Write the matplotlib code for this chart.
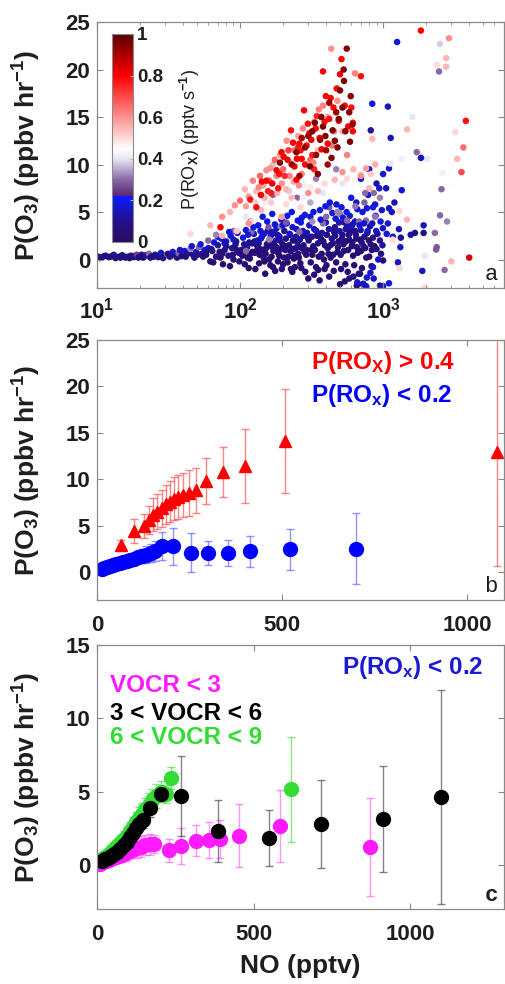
import numpy as np
import matplotlib
matplotlib.use('Agg')
import matplotlib.pyplot as plt
from matplotlib.colors import LinearSegmentedColormap

# ---------------- data: panel a (NO, P(O3), P(ROx)) ----------------
low_band = [
    (10.2, 0.30, 0.06), (10.5, 0.15, 0.08), (10.8, 0.20, 0.05), (11.2, 0.35, 0.10), (11.5, 0.40, 0.07),
    (12.1, 0.25, 0.06), (12.4, 0.30, 0.09), (12.8, 0.35, 0.05), (13.1, 0.50, 0.12), (13.5, 0.15, 0.07),
    (14.2, 0.30, 0.08), (14.6, 0.20, 0.06), (15.0, 0.45, 0.05), (15.4, 0.35, 0.10), (15.8, 0.20, 0.07),
    (16.5, 0.30, 0.09), (16.9, 0.15, 0.06), (17.3, 0.40, 0.05), (18.1, 0.25, 0.08), (18.5, 0.40, 0.11),
    (19.0, 0.50, 0.25), (19.5, 0.20, 0.07), (20.0, 0.30, 0.06), (20.5, 0.50, 0.09), (21.0, 0.20, 0.05),
    (21.5, 0.35, 0.08), (22.0, 0.45, 0.11), (23.1, 0.60, 0.30), (23.6, 0.20, 0.06), (24.3, 0.35, 0.08),
    (25.0, 0.30, 0.05), (25.5, 0.50, 0.07), (26.8, 0.25, 0.10), (27.4, 0.45, 0.06), (28.0, 0.70, 0.18),
    (29.0, 0.15, 0.08), (29.4, 0.40, 0.07), (30.8, 0.55, 0.28), (31.5, 0.60, 0.06), (32.3, 0.30, 0.05),
    (33.0, 0.40, 0.09), (33.9, 0.80, 0.19), (35.5, 0.50, 0.09), (36.3, 0.20, 0.07), (37.2, 0.65, 0.30),
    (38.0, 1.00, 0.16), (39.0, 0.35, 0.06), (40.9, 0.90, 0.18), (41.8, 0.30, 0.05), (42.8, 0.60, 0.08),
    (44.0, 0.70, 0.10), (44.9, 1.10, 0.32), (46.0, 1.40, 0.17), (47.1, 0.45, 0.07), (48.0, 0.20, 0.06),
    (49.3, 0.80, 0.17), (50.5, 0.50, 0.09), (51.6, 1.30, 0.30), (53.0, 1.60, 0.18), (54.0, 0.60, 0.10),
    (55.2, 0.30, 0.06), (56.5, 1.00, 0.19), (58.0, 0.80, 0.08),
]
mid_low = [
    (58, 0.5, 0.07), (60, 1.2, 0.16), (62, -0.2, 0.05), (64, 0.9, 0.09), (66, 1.8, 0.18), (68, 0.3, 0.06),
    (70, 1.5, 0.12), (72, 0.8, 0.05), (74, 2.2, 0.19), (76, -0.5, 0.04), (78, 1.0, 0.08), (80, 1.9, 0.15),
    (83, 0.4, 0.06), (86, 2.5, 0.19), (88, 1.2, 0.10), (90, 0.0, 0.05), (93, 1.6, 0.08), (96, 2.8, 0.17),
    (98, 0.7, 0.06), (60, 2.0, 0.30), (65, -0.3, 0.05), (70, 2.4, 0.18), (75, 0.6, 0.07), (80, 1.4, 0.11),
    (85, -0.7, 0.04), (90, 2.1, 0.16), (95, 1.0, 0.06), (63, 1.1, 0.09), (68, 2.6, 0.32), (73, 0.2, 0.05),
    (78, 1.7, 0.14), (84, 2.9, 0.18), (89, 0.5, 0.07), (94, 1.9, 0.12), (99, -0.2, 0.05),
]
bulk_mid = [
    (102, 1.0, 0.06), (105, 2.3, 0.17), (108, -0.5, 0.05), (110, 3.1, 0.19), (113, 0.2, 0.08), (116, 1.8, 0.12),
    (119, 4.0, 0.18), (122, 0.8, 0.05), (125, 2.7, 0.15), (128, -1.0, 0.04), (131, 1.5, 0.10), (134, 3.6, 0.19),
    (137, 0.5, 0.06), (140, 2.2, 0.14), (144, 4.5, 0.18), (148, -0.2, 0.05), (152, 1.2, 0.09), (156, 3.0, 0.16),
    (160, 0.0, 0.04), (164, 2.5, 0.13), (168, 4.8, 0.19), (172, 1.7, 0.07), (176, -1.2, 0.05), (180, 3.3, 0.17),
    (185, 0.7, 0.06), (190, 2.0, 0.11), (195, 4.2, 0.18), (200, -0.5, 0.04), (206, 1.4, 0.08), (212, 3.8, 0.16),
    (218, 0.3, 0.05), (224, 2.6, 0.12), (230, 5.0, 0.19), (236, 1.1, 0.07), (242, -0.8, 0.04), (248, 3.2, 0.15),
    (255, 0.6, 0.06), (262, 2.1, 0.10), (270, 4.4, 0.18), (278, 1.5, 0.08), (286, -1.3, 0.04), (294, 2.8, 0.14),
    (104, 0.4, 0.05), (112, 1.3, 0.09), (120, 2.9, 0.30), (130, 0.9, 0.06), (142, 2.4, 0.17), (154, 1.6, 0.08),
    (166, 0.3, 0.05), (178, 2.0, 0.12), (192, 3.5, 0.32), (208, 1.0, 0.06), (222, 2.7, 0.16), (238, 0.1, 0.05),
    (252, 1.8, 0.09), (266, 3.9, 0.19), (282, 0.8, 0.07), (298, 2.3, 0.13), (115, -0.9, 0.04), (135, 1.7, 0.10),
    (158, 3.4, 0.28), (183, 2.6, 0.18), (215, -0.3, 0.05), (245, 1.2, 0.08), (275, 3.0, 0.15),
    (107, 1.6, 0.07), (118, 0.6, 0.05), (126, 1.9, 0.08), (138, 1.1, 0.06), (146, 0.2, 0.05), (162, 1.4, 0.07),
    (174, 2.8, 0.10), (188, 0.4, 0.05), (198, 1.6, 0.06), (204, 3.0, 0.09), (226, 0.9, 0.05), (234, 2.0, 0.06),
    (258, 0.2, 0.05), (272, 1.2, 0.06), (290, 0.5, 0.05), (150, -1.5, 0.04), (170, -0.8, 0.04), (196, -1.0, 0.05),
    (232, -1.3, 0.04), (264, -0.4, 0.05),
]
bulk_high = [
    (302, 2.0, 0.06), (310, 4.5, 0.18), (320, 0.5, 0.05), (330, 3.2, 0.15), (340, -0.8, 0.04), (350, 1.7, 0.09),
    (362, 5.2, 0.19), (374, 2.8, 0.12), (386, 0.0, 0.05), (398, 3.9, 0.17), (410, 1.2, 0.07), (424, 6.0, 0.19),
    (438, 2.2, 0.10), (452, -1.2, 0.04), (466, 4.3, 0.16), (480, 0.8, 0.06), (496, 3.0, 0.13), (512, 5.5, 0.18),
    (528, 1.6, 0.08), (545, -0.5, 0.05), (562, 3.6, 0.15), (580, 2.1, 0.07), (598, 6.5, 0.19), (617, 0.4, 0.05),
    (636, 4.0, 0.17), (656, 1.3, 0.09), (676, -1.5, 0.04), (697, 3.1, 0.14), (718, 5.0, 0.18), (740, 2.4, 0.06),
    (763, 0.2, 0.05), (786, 6.8, 0.17), (810, 3.5, 0.12), (835, 1.0, 0.05), (860, -2.0, 0.15), (886, 4.6, 0.19),
    (913, 2.7, 0.08), (940, 7.5, 0.18), (968, 0.6, 0.06), (997, 3.3, 0.16),
    (315, 1.0, 0.05), (345, 2.5, 0.08), (380, 3.8, 0.30), (415, 0.6, 0.05), (455, 2.9, 0.11), (500, 4.8, 0.32),
    (550, 1.9, 0.06), (600, 3.4, 0.17), (650, 2.2, 0.05), (700, 0.9, 0.07), (760, 4.1, 0.30), (820, 1.6, 0.06),
    (880, 5.8, 0.18), (950, 2.0, 0.09),
    (330, -1.6, 0.04), (390, -1.0, 0.05), (470, -0.3, 0.06), (540, -2.3, 0.05), (620, -1.8, 0.06),
    (720, -2.6, 0.15), (830, -0.7, 0.05),
    (325, 1.4, 0.06), (355, 0.3, 0.05), (368, 2.2, 0.07), (392, 1.5, 0.06), (405, 2.6, 0.08), (430, 0.2, 0.05),
    (445, 1.7, 0.07), (460, 3.4, 0.10), (488, 1.9, 0.05), (505, 0.5, 0.06), (520, 2.6, 0.07), (535, 3.9, 0.09),
    (570, 1.0, 0.05), (590, 2.9, 0.06), (610, 1.8, 0.05), (640, 3.0, 0.08), (665, 0.7, 0.06), (690, 2.1, 0.05),
    (730, 1.4, 0.06), (775, 2.8, 0.08), (800, 0.3, 0.05), (850, 2.3, 0.06), (900, 1.1, 0.07),
    (655, -2.75, 0.05), (727, -2.55, 0.16), (950, -2.75, 0.05), (770, -1.9, 0.17), (690, -1.5, 0.06),
    (850, -0.8, 0.15), (1000, -0.1, 0.05), (1320, 1.3, 0.17), (1170, 2.4, 0.16), (1060, 2.7, 0.18),
    (650, 6.0, 0.16), (700, 8.5, 0.18), (750, 7.0, 0.30), (800, 9.5, 0.15), (850, 5.5, 0.19), (900, 8.0, 0.12),
    (950, 6.5, 0.32), (1000, 9.0, 0.17), (1050, 7.5, 0.15), (1100, 9.6, 0.18), (1150, 5.0, 0.16),
    (1200, 6.0, 0.14), (680, 4.0, 0.30), (780, 3.0, 0.17), (880, 4.5, 0.31), (980, 5.2, 0.16), (1080, 3.8, 0.18),
]
bulk_fill = [
    (105, 0.5, 0.05), (109, 1.4, 0.10), (114, 2.6, 0.17), (117, 0.1, 0.04), (121, 1.7, 0.08), (124, 3.4, 0.19),
    (127, 0.7, 0.05), (132, 2.0, 0.14), (136, -0.4, 0.04), (139, 3.0, 0.18), (143, 1.0, 0.06), (147, 2.7, 0.16),
    (151, 0.6, 0.05), (155, 4.0, 0.19), (159, 1.9, 0.09), (163, -0.6, 0.04), (167, 2.9, 0.15), (171, 0.9, 0.06),
    (175, 3.7, 0.18), (179, 1.3, 0.07), (184, -0.2, 0.05), (189, 2.4, 0.13), (193, 1.1, 0.06), (199, 3.6, 0.17),
    (203, 0.2, 0.05), (209, 2.2, 0.10), (214, 4.6, 0.19), (220, 1.5, 0.07), (227, -1.0, 0.04), (233, 3.4, 0.16),
    (240, 0.4, 0.05), (246, 2.4, 0.12), (253, 4.1, 0.18), (260, 1.3, 0.06), (268, -0.9, 0.04), (276, 2.5, 0.11),
    (284, 4.7, 0.19), (292, 1.0, 0.06),
    (305, 3.6, 0.17), (312, -0.3, 0.05), (318, 2.4, 0.09), (326, 5.0, 0.19), (334, 1.0, 0.06), (342, 3.0, 0.14),
    (352, -1.1, 0.04), (358, 2.5, 0.08), (366, 4.2, 0.18), (372, 0.6, 0.05), (382, 1.9, 0.07), (395, 5.6, 0.19),
    (402, -0.6, 0.05), (418, 3.2, 0.13), (428, 1.5, 0.06), (442, 4.9, 0.18), (448, 0.5, 0.05), (462, 2.5, 0.09),
    (472, 5.8, 0.17), (484, 1.3, 0.06), (492, 3.9, 0.15), (508, -1.0, 0.05), (516, 2.2, 0.08), (524, 4.4, 0.18),
    (532, 0.9, 0.06), (548, 3.2, 0.12), (556, 5.0, 0.19), (566, -1.3, 0.05), (575, 2.6, 0.07), (585, 4.6, 0.17),
    (604, 1.4, 0.06), (612, 3.7, 0.14), (628, -0.6, 0.05), (645, 2.6, 0.09), (660, 5.3, 0.18), (672, 0.9, 0.05),
    (685, 3.6, 0.16), (708, 1.8, 0.06), (712, -0.9, 0.05), (735, 3.8, 0.17), (750, 1.2, 0.06), (770, 5.4, 0.18),
    (795, 2.0, 0.07), (815, -1.4, 0.16), (840, 3.8, 0.14), (870, 1.4, 0.06), (895, 3.0, 0.17), (925, 0.0, 0.15),
    (960, 4.0, 0.18), (990, 1.5, 0.12),
    (110, 0.9, 0.30), (160, 2.1, 0.32), (210, 3.9, 0.28), (260, 2.9, 0.30), (320, 4.0, 0.33), (400, 4.5, 0.30),
    (480, 5.0, 0.32), (560, 4.1, 0.30), (640, 5.6, 0.31), (740, 6.0, 0.29), (860, 7.0, 0.30),
    (300, -2.0, 0.05), (360, -2.2, 0.05), (420, -1.8, 0.06), (500, -2.6, 0.05), (580, -2.0, 0.06),
    (660, -2.4, 0.17), (760, -2.8, 0.16), (1000, -2.8, 0.17), (1100, -2.5, 0.18),
]
pale = [
    (90, 3.0, 0.30), (110, 4.5, 0.40), (130, 5.5, 0.35), (150, 6.0, 0.42), (170, 6.8, 0.30), (195, 5.0, 0.45),
    (220, 7.2, 0.38), (250, 6.5, 0.30), (280, 7.8, 0.42), (310, 6.0, 0.35), (340, 8.5, 0.32), (380, 7.0, 0.40),
    (420, 5.5, 0.28), (470, 9.5, 0.32), (520, 8.0, 0.40), (600, 6.5, 0.45), (700, 9.0, 0.50), (800, 7.5, 0.55),
    (900, 9.8, 0.45),
]
pink = [
    (45, 2.7, 0.50), (62, 3.6, 0.55), (75, 4.5, 0.60), (85, 5.0, 0.55), (92, 5.7, 0.60), (100, 6.2, 0.65),
    (108, 7.4, 0.55), (115, 6.6, 0.60), (123, 8.3, 0.62), (130, 7.2, 0.55), (138, 8.8, 0.66), (145, 7.8, 0.58),
    (153, 9.4, 0.60), (160, 8.3, 0.68), (170, 10.0, 0.55), (180, 8.8, 0.62), (190, 11.0, 0.58), (200, 9.5, 0.66),
    (212, 12.5, 0.60), (225, 10.2, 0.55), (240, 11.5, 0.64), (255, 13.0, 0.58), (270, 9.0, 0.62), (290, 12.0, 0.56),
    (310, 10.5, 0.66), (330, 14.5, 0.60), (350, 11.5, 0.55), (380, 16.2, 0.62), (410, 15.0, 0.58), (440, 12.0, 0.64),
    (480, 16.7, 0.60), (520, 13.5, 0.56), (560, 11.0, 0.62), (620, 9.5, 0.55), (700, 8.8, 0.60), (760, 9.6, 0.58),
    (820, 9.0, 0.52), (880, 10.0, 0.56), (120, 4.0, 0.50), (140, 5.2, 0.55), (165, 6.0, 0.52), (195, 4.5, 0.58),
    (230, 6.5, 0.55), (265, 5.5, 0.50), (300, 7.0, 0.60), (75, 2.5, 0.55), (95, 3.0, 0.52), (115, 3.8, 0.60),
    (434, 22.2, 0.60), (636, 19.6, 0.62),
]
red = [
    (73, 3.4, 0.82), (130, 5.5, 0.78), (153, 8.3, 0.80), (165, 7.0, 0.76), (180, 9.4, 0.82), (195, 11.3, 0.80),
    (205, 8.8, 0.74), (215, 10.5, 0.80), (227, 13.6, 0.78), (240, 9.8, 0.82), (255, 11.8, 0.76), (270, 10.6, 0.80),
    (280, 15.7, 0.82), (292, 12.0, 0.78), (305, 13.3, 0.80), (320, 11.0, 0.76), (344, 15.1, 0.75), (360, 12.8, 0.80),
    (398, 17.2, 0.80), (420, 14.8, 0.78), (474, 18.0, 0.80), (500, 19.5, 0.82), (615, 14.4, 0.80), (615, 13.5, 0.80),
    (248, 8.4, 0.80), (185, 7.5, 0.78), (140, 6.8, 0.82), (260, 12.2, 0.80), (330, 9.5, 0.76), (450, 16.0, 0.80),
    (512, 21.1, 0.80), (380, 19.8, 0.82), (700, 19.3, 0.78),
]
red_fill = [
    (110, 5.6, 0.58), (118, 6.3, 0.78), (128, 6.0, 0.52), (135, 7.6, 0.62), (142, 8.2, 0.80), (148, 6.5, 0.56),
    (157, 7.2, 0.75), (162, 9.6, 0.60), (168, 8.0, 0.82), (175, 10.5, 0.66), (182, 7.0, 0.55), (188, 9.0, 0.78),
    (196, 8.0, 0.60), (202, 10.8, 0.82), (210, 7.4, 0.55), (218, 11.5, 0.72), (222, 8.8, 0.62), (235, 12.3, 0.80),
    (238, 8.2, 0.58), (250, 10.6, 0.82), (258, 7.8, 0.60), (265, 11.5, 0.78), (275, 13.8, 0.62), (285, 10.0, 0.80),
    (298, 14.3, 0.78), (315, 12.6, 0.82), (325, 10.2, 0.62), (338, 13.8, 0.80), (355, 15.8, 0.62), (372, 11.6, 0.82),
    (390, 14.5, 0.78), (410, 12.2, 0.80), (430, 17.0, 0.80), (455, 13.5, 0.62), (490, 14.6, 0.80), (540, 16.2, 0.78),
    (570, 14.0, 0.82), (600, 16.0, 0.78), (180, 6.2, 0.45), (210, 5.8, 0.50), (240, 6.0, 0.46), (275, 6.5, 0.42),
    (310, 7.6, 0.48), (350, 7.2, 0.55), (390, 8.0, 0.50), (430, 7.0, 0.45), (460, 8.4, 0.55), (520, 9.2, 0.60),
    (560, 8.5, 0.50),
]
dark_red = [
    (190, 10.2, 0.95), (248, 11.3, 0.95), (270, 12.8, 0.92), (308, 9.8, 0.95), (333, 14.4, 0.95), (363, 12.6, 0.92),
    (380, 14.0, 0.95), (400, 11.5, 0.90), (436, 10.7, 0.95), (444, 13.6, 0.95), (470, 15.5, 0.92), (500, 17.8, 0.95),
    (533, 18.8, 0.95), (557, 22.2, 0.95), (587, 12.4, 0.95), (594, 17.2, 0.95), (300, 13.0, 0.92), (350, 9.0, 0.95),
    (420, 16.5, 0.92), (480, 11.8, 0.95), (530, 20.0, 0.95), (260, 8.8, 0.92),
    (320, 13.5, 0.95), (340, 11.0, 0.93), (370, 15.0, 0.95), (395, 13.0, 0.95), (410, 10.0, 0.92),
    (460, 12.5, 0.95), (490, 14.8, 0.95), (520, 16.0, 0.95), (545, 13.5, 0.95), (580, 15.5, 0.95),
    (610, 14.2, 0.93), (285, 11.8, 0.93), (230, 10.0, 0.92),
]
sparse = [
    (1837, 24.1, 0.80), (1253, 22.9, 0.18), (2890, 23.3, 0.60), (2500, 22.7, 0.38), (2760, 21.2, 0.55),
    (2760, 20.3, 0.55), (2460, 19.8, 0.30), (2380, 20.5, 0.50), (3790, 14.6, 0.78), (3640, 11.8, 0.65),
    (3530, 9.2, 0.70), (3300, 10.6, 0.55), (3200, 13.4, 0.50), (3000, 7.8, 0.45), (2600, 9.1, 0.42),
    (2560, 7.4, 0.30), (2500, 4.65, 0.30), (2800, 4.0, 0.32), (2370, 1.3, 0.28), (2350, 1.05, 0.28),
    (3000, -0.2, 0.55), (4000, 0.2, 0.85), (2690, -1.1, 0.30), (2030, 10.6, 0.40), (1720, 11.3, 0.30),
    (1840, 10.7, 0.15), (1600, 15.0, 0.40), (1470, 13.7, 0.55), (1350, 10.6, 0.42), (1120, 10.1, 0.40),
    (1130, 12.8, 0.15), (1080, 16.1, 0.15), (840, 16.4, 0.18), (820, 13.6, 0.12), (840, 12.7, 0.55),
    (1350, 7.3, 0.18), (1100, 5.4, 0.15), (1300, 5.1, 0.50), (1470, 4.2, 0.55), (1290, 3.2, 0.15),
    (1560, 2.6, 0.12), (1670, 2.8, 0.10), (1920, 3.6, 0.15), (1920, 2.8, 0.10), (2300, 2.8, 0.30),
    (1170, 2.1, 0.50), (1330, 2.3, 0.12), (1270, -0.3, 0.15), (1880, -1.2, 0.15), (1960, 0.4, 0.40),
    (1300, -0.9, 0.50), (1960, -2.9, 0.50),
]

# ---------------- data: panel b ----------------
red_no = [66, 99, 126, 140, 152, 163, 175, 186, 197, 208, 220, 232, 248, 268, 295, 340, 401, 509, 1082]
red_po3 = [2.9, 4.4, 5.0, 5.6, 6.2, 6.5, 6.9, 7.3, 7.6, 7.9, 8.1, 8.3, 8.5, 8.8, 9.8, 10.8, 11.4, 14.1, 12.9]
red_err = [0.6, 1.3, 1.3, 1.5, 1.8, 1.9, 2.0, 2.1, 2.2, 2.3, 2.4, 2.4, 2.5, 2.4, 2.5, 2.7, 4.0, 5.6, 12.2]
blue_no = [13, 20, 27, 35, 43, 52, 61, 70, 80, 90, 100, 111, 122, 133, 145, 156, 175, 206, 253, 301, 355, 413, 522, 699]
blue_po3 = [0.35, 0.45, 0.55, 0.65, 0.75, 0.85, 0.95, 1.05, 1.2, 1.3, 1.45, 1.6, 1.75, 1.9, 2.05, 2.3, 2.8, 2.8,
            2.1, 2.1, 2.1, 2.25, 2.45, 2.55]
blue_err = [0.1, 0.15, 0.2, 0.25, 0.3, 0.35, 0.4, 0.45, 0.5, 0.55, 0.6, 0.7, 0.8, 0.9, 1.0, 1.1, 1.5, 2.0,
            2.1, 1.3, 1.4, 1.7, 2.2, 3.8]

# ---------------- data: panel c ----------------
mag_no = [10, 20, 30, 40, 50, 60, 70, 80, 90, 100, 113, 127, 140, 153, 168, 183, 230, 270, 317, 357, 394, 455, 585, 873]
mag_po3 = [0.1, 0.2, 0.3, 0.35, 0.45, 0.55, 0.6, 0.7, 0.8, 0.9, 1.05, 1.15, 1.25, 1.35, 1.4, 1.45, 1.0, 1.3,
           1.65, 1.7, 1.75, 2.0, 2.65, 1.25]
mag_err = [0.1, 0.15, 0.2, 0.25, 0.3, 0.35, 0.4, 0.45, 0.5, 0.55, 0.6, 0.65, 0.7, 0.7, 0.7, 0.6, 0.8, 1.25,
           1.05, 1.2, 1.3, 2.15, 2.45, 3.35]
blk_no = [16, 25, 35, 45, 55, 65, 75, 85, 95, 105, 115, 125, 135, 148, 169, 203, 268, 386, 550, 714, 912, 1100]
blk_po3 = [0.3, 0.4, 0.5, 0.6, 0.75, 0.9, 1.1, 1.35, 1.6, 1.9, 2.2, 2.5, 2.8, 3.1, 3.9, 4.85, 4.7, 2.3, 1.85,
           2.8, 3.15, 4.65]
blk_err = [0.1, 0.15, 0.2, 0.2, 0.25, 0.3, 0.3, 0.35, 0.4, 0.4, 0.45, 0.5, 0.5, 0.55, 0.6, 0.5, 2.75, 2.1, 1.9,
           3.0, 3.6, 7.3]
grn_no = [15, 25, 35, 45, 55, 65, 75, 85, 95, 105, 115, 125, 135, 145, 155, 165, 175, 190, 205, 219, 235, 619]
grn_po3 = [0.4, 0.55, 0.7, 0.9, 1.1, 1.3, 1.5, 1.75, 2.0, 2.3, 2.6, 2.9, 3.2, 3.5, 3.8, 4.1, 4.4, 4.7, 5.0,
           4.85, 5.9, 5.15]
grn_err = [0.3, 0.35, 0.4, 0.45, 0.5, 0.5, 0.55, 0.6, 0.6, 0.65, 0.7, 0.7, 0.75, 0.75, 0.8, 0.8, 0.8, 0.8, 0.7,
           0.6, 0.75, 3.6]

# ---------------- style ----------------
plt.rcParams['font.family'] = ['Liberation Sans', 'DejaVu Sans']
plt.rcParams['font.weight'] = 'bold'
plt.rcParams['axes.labelweight'] = 'bold'
plt.rcParams['mathtext.fontset'] = 'custom'
plt.rcParams['mathtext.rm'] = 'Liberation Sans:bold'
plt.rcParams['mathtext.bf'] = 'Liberation Sans:bold'
plt.rcParams['mathtext.it'] = 'Liberation Sans'
plt.rcParams['mathtext.default'] = 'rm'

spine_col = '#8a8a8a'
txt_col = '#1e1e1e'

cmap = LinearSegmentedColormap.from_list('prox', [
    (0.0, '#2c0b5e'), (0.10, '#22108f'), (0.22, '#0a1cff'), (0.2201, '#5b2478'),
    (0.30, '#8a6aa5'), (0.40, '#e8e6f4'), (0.45, '#ffffff'), (0.55, '#ffb4b4'),
    (0.80, '#ff0000'), (1.0, '#5a0000')])

fig = plt.figure(figsize=(5.05, 9.84), dpi=100)
ax_a = fig.add_axes([0.192, 0.7073, 0.806, 0.2703])
ax_b = fig.add_axes([0.192, 0.3902, 0.806, 0.2642])
ax_c = fig.add_axes([0.192, 0.0762, 0.806, 0.2683])


def style(ax, xpad):
    for s in ax.spines.values():
        s.set_color(spine_col)
        s.set_linewidth(0.9)
    ax.tick_params(which='both', direction='in', top=True, right=True, color=spine_col,
                   labelcolor=txt_col, labelsize=16)
    ax.tick_params(which='major', length=4)
    ax.tick_params(which='minor', length=2)
    ax.tick_params(axis='x', pad=xpad)
    ax.tick_params(axis='y', pad=5)
    ax.set_ylabel(r'P(O$_3$) (ppbv hr$^{-1}$)', fontsize=19, fontweight='bold', color=txt_col)
    ax.yaxis.set_label_coords(-0.132, 0.5)


# ---------------- panel a ----------------
pts = np.array(pale + low_band + mid_low + bulk_mid + bulk_high + bulk_fill + pink + red_fill + red
               + dark_red + sparse)
sc = ax_a.scatter(pts[:, 0], pts[:, 1], c=pts[:, 2], cmap=cmap, vmin=0, vmax=1, s=22, linewidths=0)
ax_a.set_xscale('log')
ax_a.set_xlim(10, 7000)
ax_a.set_ylim(-3, 25)
ax_a.set_yticks([0, 5, 10, 15, 20, 25])
style(ax_a, 7)
ax_a.text(0.985, 0.012, 'a', transform=ax_a.transAxes, ha='right', va='bottom',
          fontsize=16, family='Liberation Mono', fontweight='normal', color=txt_col)

cax = fig.add_axes([0.2218, 0.7541, 0.0416, 0.2114])
cb = fig.colorbar(sc, cax=cax)
cb.set_ticks([0, 0.2, 0.4, 0.6, 0.8, 1])
cb.set_ticklabels(['0', '0.2', '0.4', '0.6', '0.8', '1'])
cb.outline.set_edgecolor(spine_col)
cb.outline.set_linewidth(0.8)
cax.tick_params(direction='in', length=2, color='#bbbbbb', labelsize=13.5, labelcolor=txt_col, pad=3)
fig.text(0.376, 0.858, r'P(RO$_\mathit{X}$) (pptv s$^\mathit{-1}$)', rotation=90, ha='center', va='center',
         fontsize=13, fontweight='normal', color=txt_col)

# ---------------- panel b ----------------
ax_b.errorbar(blue_no, blue_po3, yerr=blue_err, fmt='o', color='#0000ff', ms=10, mec='#0000ff',
              ecolor=(0.3, 0.3, 1.0, 0.6), elinewidth=1, capsize=3)
ax_b.errorbar(red_no, red_po3, yerr=red_err, fmt='^', color='#ff0000', ms=9, mec='#ff0000',
              ecolor=(1.0, 0.2, 0.2, 0.6), elinewidth=1, capsize=3)
ax_b.set_xlim(0, 1100)
ax_b.set_ylim(-3, 25)
ax_b.set_xticks([0, 500, 1000])
ax_b.set_yticks([0, 5, 10, 15, 20, 25])
style(ax_b, 11)
ax_b.text(0.527, 0.912, r'P(RO$_\mathrm{X}$) > 0.4', transform=ax_b.transAxes, ha='left', va='center',
          fontsize=17.5, color='#ff0000')
ax_b.text(0.527, 0.785, r'P(RO$_\mathrm{x}$) < 0.2', transform=ax_b.transAxes, ha='left', va='center',
          fontsize=17.5, color='#0000ff')
ax_b.text(0.985, 0.012, 'b', transform=ax_b.transAxes, ha='right', va='bottom',
          fontsize=16, family='Liberation Mono', fontweight='normal', color=txt_col)

# ---------------- panel c ----------------
ax_c.errorbar(mag_no, mag_po3, yerr=mag_err, fmt='o', color='#ff1aff', ms=10, mec='#ff1aff',
              ecolor=(1.0, 0.3, 1.0, 0.6), elinewidth=1, capsize=3)
ax_c.errorbar(grn_no, grn_po3, yerr=grn_err, fmt='o', color='#33dd33', ms=10, mec='#33dd33',
              ecolor=(0.2, 0.85, 0.2, 0.6), elinewidth=1, capsize=3)
ax_c.errorbar(blk_no, blk_po3, yerr=blk_err, fmt='o', color='#000000', ms=10, mec='#000000',
              ecolor=(0.2, 0.2, 0.2, 0.6), elinewidth=1, capsize=3)
ax_c.set_xlim(0, 1300)
ax_c.set_ylim(-3, 15)
ax_c.set_xticks([0, 500, 1000])
ax_c.set_yticks([0, 5, 10, 15])
style(ax_c, 11)
ax_c.set_xlabel('NO (pptv)', fontsize=19, fontweight='bold', color=txt_col)
ax_c.xaxis.set_label_coords(0.5, -0.17)
ax_c.text(0.603, 0.913, r'P(RO$_\mathrm{x}$) < 0.2', transform=ax_c.transAxes, ha='left', va='center',
          fontsize=17.5, color='#1a1ad6')
ax_c.text(0.032, 0.848, 'VOCR < 3', transform=ax_c.transAxes, ha='left', va='center',
          fontsize=17.5, color='#ff1aff')
ax_c.text(0.032, 0.742, '3 < VOCR < 6', transform=ax_c.transAxes, ha='left', va='center',
          fontsize=17.5, color='#000000')
ax_c.text(0.032, 0.648, '6 < VOCR < 9', transform=ax_c.transAxes, ha='left', va='center',
          fontsize=17.5, color='#33dd33')
ax_c.text(0.985, 0.012, 'c', transform=ax_c.transAxes, ha='right', va='bottom',
          fontsize=16, family='Liberation Mono', fontweight='bold', color=txt_col)

fig.savefig('out.png', dpi=100)
